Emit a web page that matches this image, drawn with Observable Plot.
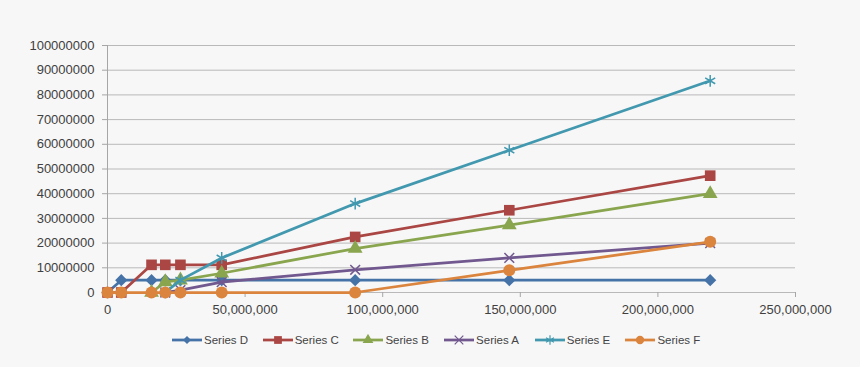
<!DOCTYPE html>
<html>
<head>
<meta charset="utf-8">
<script src="https://cdn.jsdelivr.net/npm/d3@7"></script>
<script src="https://cdn.jsdelivr.net/npm/@observablehq/plot@0.6"></script>
<style>
  html, body { margin: 0; padding: 0; background: #f7f7f7; }
  #chart { width: 860px; height: 325px; }
  #legend { position: relative; height: 30px; display: flex; padding-left: 172px; box-sizing: border-box; align-items: center; margin-top: 0px; font-family: "Liberation Sans", Arial, sans-serif; font-size: 11.5px; color: #444; }
  .item { width: 90.7px; display: flex; align-items: center; white-space: nowrap; }
  .item svg { display: block; margin-right: 1px; }
</style>
</head>
<body>
<div id="chart"></div>
<div id="legend"></div>
<script>
// x positions (shared by all series)
const xValues = [0, 5e6, 16e6, 21e6, 26.5e6, 41.5e6, 90e6, 146e6, 219e6];

// series values (null = no point)
const seriesD = [0, 5e6, 5e6, 5e6, 5e6, 5e6, 5e6, 5e6, 5e6];
const seriesC = [0, 0, 11.2e6, 11.2e6, 11.2e6, 11.2e6, 22.5e6, 33.3e6, 47.3e6];
const seriesB = [null, null, 0, 4.3e6, 5e6, 7.8e6, 17.8e6, 27.3e6, 40e6];
const seriesA = [null, null, null, 0, 1e6, 4.2e6, 9.2e6, 14e6, 20e6];
const seriesE = [null, null, null, 0, 5e6, 14e6, 36e6, 57.6e6, 85.7e6];
const seriesF = [0, 0, 0, 0, 0, 0, 0, 9e6, 20.5e6];

const seriesNames = ["Series D", "Series C", "Series B", "Series A", "Series E", "Series F"];
const seriesValues = [seriesD, seriesC, seriesB, seriesA, seriesE, seriesF];
const seriesColors = ["#4572A7", "#AA4643", "#89A54E", "#71588F", "#4198AF", "#DB843D"];
const seriesSymbols = ["diamond", "square", "triangle", "times", "asterisk", "circle"];
const seriesSizes = [5.5, 6, 5.5, 4.5, 5.5, 6];
const filledSymbols = ["diamond", "square", "triangle", "circle"];

const yTicks = d3.range(0, 100e6 + 1, 10e6);
const xTicks = d3.range(0, 250e6 + 1, 50e6);

const symbolObjects = {diamond: d3.symbolDiamond2, square: d3.symbolSquare, triangle: d3.symbolTriangle,
  times: d3.symbolTimes, asterisk: d3.symbolAsterisk, circle: d3.symbolCircle};

const marks = [
  Plot.gridY(yTicks, {stroke: "#b9b9b9", strokeOpacity: 1, strokeWidth: 1}),
  Plot.ruleX([0], {stroke: "#a6a6a6", strokeWidth: 1}),
  Plot.axisY(yTicks, {tickSize: 5, tickPadding: 8, stroke: "#a6a6a6", label: null, tickFormat: d => String(d), fill: "#404040"}),
  Plot.axisX(xTicks, {tickSize: 5, tickPadding: 7, stroke: "#a6a6a6", label: null, tickFormat: d3.format(","), fill: "#404040"})
];

seriesNames.forEach((name, i) => {
  const rows = xValues.map((x, j) => ({x, y: seriesValues[i][j], series: name}))
    .filter(d => d.y !== null);
  const color = seriesColors[i];
  const sym = seriesSymbols[i];
  const filled = filledSymbols.includes(sym);
  marks.push(Plot.line(rows, {x: "x", y: "y", stroke: color, strokeWidth: 2.75}));
  marks.push(Plot.dot(rows, {
    x: "x", y: "y", symbol: symbolObjects[sym], r: seriesSizes[i],
    fill: filled ? color : "none",
    stroke: filled ? "none" : color,
    strokeWidth: filled ? 0 : 1.5
  }));
});

const chart = Plot.plot({
  width: 860,
  height: 325,
  marginLeft: 107,
  marginRight: 65,
  marginTop: 45,
  marginBottom: 33,
  x: {domain: [0, 250e6], axis: null, label: null},
  y: {domain: [0, 100e6], axis: null, label: null},
  style: {background: "#f7f7f7", fontFamily: "Liberation Sans, Arial, sans-serif", fontSize: "13px", color: "#404040"},
  marks
});
document.getElementById("chart").appendChild(chart);

// legend
const legend = d3.select("#legend");
seriesNames.forEach((name, i) => {
  const item = legend.append("div").attr("class", "item");
  const svg = item.append("svg").attr("width", 31).attr("height", 12);
  svg.append("line").attr("x1", 0).attr("x2", 30).attr("y1", 6).attr("y2", 6)
    .attr("stroke", seriesColors[i]).attr("stroke-width", 2.75);
  const sym = seriesSymbols[i];
  const filled = filledSymbols.includes(sym);
  const size = {diamond: 40, square: 60, triangle: 50, times: 50, asterisk: 60, circle: 55}[sym];
  svg.append("path").attr("transform", "translate(15,6)")
    .attr("d", d3.symbol(symbolObjects[sym], size)())
    .attr("fill", filled ? seriesColors[i] : "none")
    .attr("stroke", filled ? "none" : seriesColors[i])
    .attr("stroke-width", 1.2);
  item.append("span").text(name);
});
</script>
</body>
</html>
